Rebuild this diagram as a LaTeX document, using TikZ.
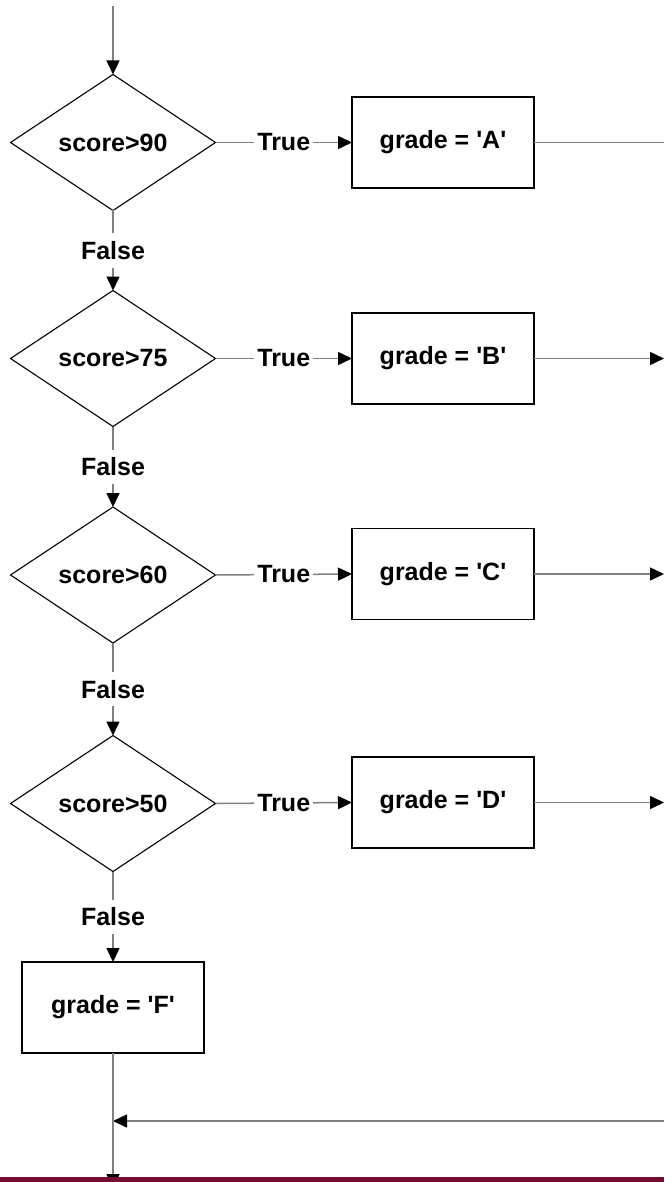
\documentclass[tikz,border=0pt]{standalone}
\usepackage{fontspec}
\setmainfont{Liberation Sans}
\usetikzlibrary{shapes.geometric,arrows.meta}
\definecolor{conncol}{RGB}{128,128,128}
\definecolor{barred}{RGB}{118,12,52}
\newcommand{\sq}{\textquotesingle}
\begin{document}
\begin{tikzpicture}[x=1pt,y=-1pt,
  every node/.style={font=\fontsize{25pt}{30pt}\selectfont\bfseries},
  decision/.style={diamond, draw=black, line width=1.1pt, minimum width=205pt, minimum height=136pt, inner sep=0pt, outer sep=0pt, aspect=1.5},
  procbox/.style={rectangle, draw=black, line width=1.1pt, minimum width=182pt, minimum height=91pt, inner sep=0pt, outer sep=0pt},
  conn/.style={draw=conncol, line width=1.5pt},
  tip/.style={-{Triangle[length=14pt,width=13pt,color=black]}},
  lbl/.style={fill=white, inner xsep=3pt, inner ysep=8pt}]
\useasboundingbox (0,0) rectangle (664,1182);
\fill[white] (0,0) rectangle (664,1182);

% decisions
\node[decision] (d1) at (113,142.5) {score>90};
\node[decision] (d2) at (113,358.5) {score>75};
\node[decision] (d3) at (113,575) {score>60};
\node[decision] (d4) at (113,803.5) {score>50};

% process boxes
\node[procbox] (bA) at (443,142.5) {grade = \sq A\sq};
\node[procbox] (bB) at (443,358.5) {grade = \sq B\sq};
\node[procbox] (bC) at (443,574) {grade = \sq C\sq};
\node[procbox] (bD) at (443,802.5) {grade = \sq D\sq};
\node[procbox] (bF) at (113,1007.5) {grade = \sq F\sq};

% free ends
\coordinate (start) at (113,6);
\coordinate (eA) at (664,142.5);
\coordinate (eB) at (664,358.5);
\coordinate (eC) at (664,574);
\coordinate (eD) at (664,802.5);
\coordinate (rin) at (664,1121);
\coordinate (jn) at (113,1121);
\coordinate (out) at (113,1188);

% entry
\draw[conn,tip] (start) -- (d1.north);

% true branches
\draw[conn,tip] (d1.east) -- node[lbl] {True} (bA.west);
\draw[conn,tip] (d2.east) -- node[lbl] {True} (bB.west);
\draw[conn,tip] (d3.east) -- node[lbl] {True} (bC.west);
\draw[conn,tip] (d4.east) -- node[lbl] {True} (bD.west);

% false branches
\draw[conn,tip] (d1.south) -- node[lbl] {False} (d2.north);
\draw[conn,tip] (d2.south) -- node[lbl] {False} (d3.north);
\draw[conn,tip] (d3.south) -- node[lbl] {False} (d4.north);
\draw[conn,tip] (d4.south) -- node[lbl] {False} (bF.north);

% outputs to the right
\draw[conn] (bA.east) -- (eA);
\draw[conn,tip] (bB.east) -- (eB);
\draw[conn,tip] (bC.east) -- (eC);
\draw[conn,tip] (bD.east) -- (eD);

% merge at the bottom
\draw[conn,tip] (rin) -- (jn);
\draw[conn,tip] (bF.south) -- (out);

% bottom bar
\fill[barred] (0,1177) rectangle (664,1183);
\end{tikzpicture}
\end{document}
